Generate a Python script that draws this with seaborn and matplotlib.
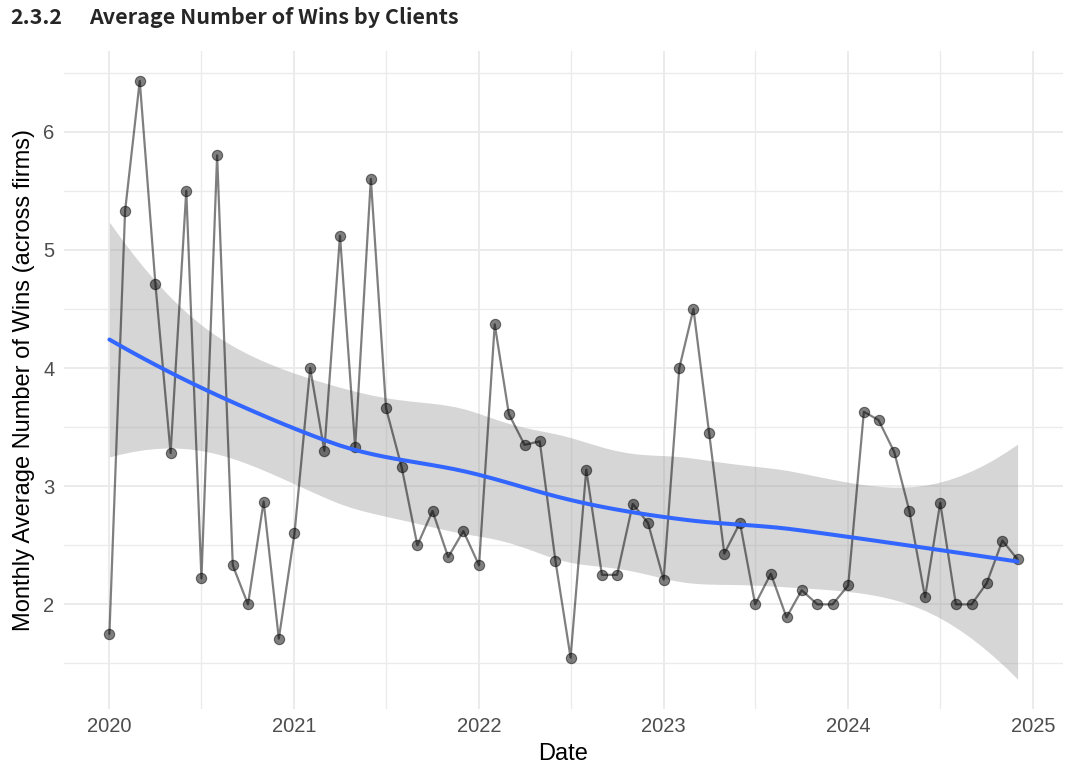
import numpy as np
import pandas as pd
import matplotlib
matplotlib.use("Agg")
import matplotlib.pyplot as plt
import matplotlib.dates as mdates
from matplotlib.ticker import MultipleLocator
import seaborn as sns

# Monatliche Durchschnittswerte
months = pd.date_range("2020-01-01", "2024-12-01", freq="MS")
avg_wins = [
    1.75, 5.33, 6.43, 4.71, 3.28, 5.50, 2.22, 5.80, 2.33, 2.00, 2.87, 1.71,
    2.60, 4.00, 3.30, 5.12, 3.33, 5.60, 3.66, 3.16, 2.50, 2.79, 2.40, 2.62,
    2.33, 4.37, 3.61, 3.35, 3.38, 2.37, 1.55, 3.14, 2.25, 2.25, 2.85, 2.69,
    2.21, 4.00, 4.50, 3.45, 2.43, 2.69, 2.00, 2.26, 1.89, 2.12, 2.00, 2.00,
    2.16, 3.63, 3.56, 3.29, 2.79, 2.06, 2.86, 2.00, 2.00, 2.18, 2.54, 2.38,
]

df = pd.DataFrame({"date": months, "wins": avg_wins})
x = mdates.date2num(df["date"].values)
y = df["wins"].to_numpy()


# loess (grado 2, span 0.75) come geom_smooth di ggplot
def local_op(x, x0, span=0.75, degree=2):
    n = len(x)
    q = int(np.floor(n * span))
    d = np.abs(x - x0)
    h = np.sort(d)[q - 1]
    w = np.clip(1 - (d / h) ** 3, 0, None) ** 3
    X = np.vander(x - x0, degree + 1, increasing=True)
    A = X.T @ (w[:, None] * X)
    B = np.linalg.solve(A, X.T * w)
    return B[0], B[1]  # valore e pendenza


# vertici kd-tree come surface = "interpolate"
fc = int(np.floor(len(x) * 0.75 * 0.2))
xs = np.sort(x)
marg = 0.005 * (xs[-1] - xs[0])
verts = {xs[0] - marg, xs[-1] + marg}


def split(lo, hi):
    if hi - lo + 1 <= fc:
        return
    m = (lo + hi) // 2
    verts.add((xs[m] + xs[m + 1]) / 2)
    split(lo, m)
    split(m + 1, hi)


split(0, len(xs) - 1)
verts = np.array(sorted(verts))
vops = [local_op(x, v) for v in verts]


def interp_op(x0):
    k = np.clip(np.searchsorted(verts, x0) - 1, 0, len(verts) - 2)
    a, b = verts[k], verts[k + 1]
    dx = b - a
    t = (x0 - a) / dx
    h00 = 2 * t ** 3 - 3 * t ** 2 + 1
    h10 = t ** 3 - 2 * t ** 2 + t
    h01 = -2 * t ** 3 + 3 * t ** 2
    h11 = t ** 3 - t ** 2
    return (h00 * vops[k][0] + h10 * dx * vops[k][1]
            + h01 * vops[k + 1][0] + h11 * dx * vops[k + 1][1])


L = np.array([interp_op(xi) for xi in x])
fitted = L @ y
IL = np.eye(len(x)) - L
M = IL.T @ IL
d1 = np.trace(M)
d2 = np.trace(M @ M)
s = np.sqrt(np.sum((y - fitted) ** 2) / d1)
dof = d1 ** 2 / d2
z = 1.959964
tq = z + (z ** 3 + z) / (4 * dof) + (5 * z ** 5 + 16 * z ** 3 + 3 * z) / (96 * dof ** 2)

xg = np.linspace(x.min(), x.max(), 80)
lg = np.array([interp_op(xi) for xi in xg])
yg = lg @ y
se = s * np.sqrt(np.sum(lg ** 2, axis=1))

sns.set_theme(style="whitegrid")
plt.rcParams["font.family"] = ["Liberation Sans", "DejaVu Sans"]

fig = plt.figure(figsize=(10.76, 7.76), dpi=100)
ax = fig.add_axes([64 / 1076, 1 - 709 / 776, (1063 - 64) / 1076, (709 - 51) / 776])

ax.fill_between(mdates.num2date(xg), yg - tq * se, yg + tq * se,
                color="#999999", alpha=0.4, linewidth=0, zorder=1)
sns.lineplot(data=df, x="date", y="wins", ax=ax, color="black", alpha=0.5,
             linewidth=1.6, zorder=2)
sns.scatterplot(data=df, x="date", y="wins", ax=ax, color="black", alpha=0.5,
                s=55, edgecolor="black", linewidth=0.8, zorder=3)
ax.plot(mdates.num2date(xg), yg, color="#3366FF", linewidth=2.9, zorder=4)

ax.margins(x=0.05, y=0.05)
ax.xaxis.set_major_locator(mdates.YearLocator())
ax.xaxis.set_major_formatter(mdates.DateFormatter("%Y"))
ax.xaxis.set_minor_locator(mdates.MonthLocator(bymonth=7))
ax.yaxis.set_major_locator(MultipleLocator(1))
ax.yaxis.set_minor_locator(MultipleLocator(0.5))

ax.set_facecolor("white")
ax.grid(which="major", color="#EBEBEB", linewidth=1.4)
ax.grid(which="minor", color="#EBEBEB", linewidth=1.0)
ax.set_axisbelow(True)
for sp in ax.spines.values():
    sp.set_visible(False)
ax.tick_params(which="both", length=0, labelsize=14.5, labelcolor="#4D4D4D")
ax.tick_params(axis="x", pad=6)
ax.tick_params(axis="y", pad=7)

ax.set_xlabel("Date", fontsize=17, color="black", labelpad=5)
ax.set_ylabel("Monthly Average Number of Wins (across firms)", fontsize=17,
              color="black", labelpad=6)

fig.text(10 / 1076, 1 - 18 / 776, "2.3.2", fontsize=15.5, fontweight="bold",
         va="center", ha="left", family=["Noto Sans CJK KR", "DejaVu Sans"])
fig.text(89 / 1076, 1 - 18 / 776, "Average Number of Wins by Clients",
         fontsize=15.5, fontweight="bold", va="center", ha="left",
         family=["Noto Sans CJK KR", "DejaVu Sans"])

fig.savefig("out.png", dpi=100, facecolor="white")
